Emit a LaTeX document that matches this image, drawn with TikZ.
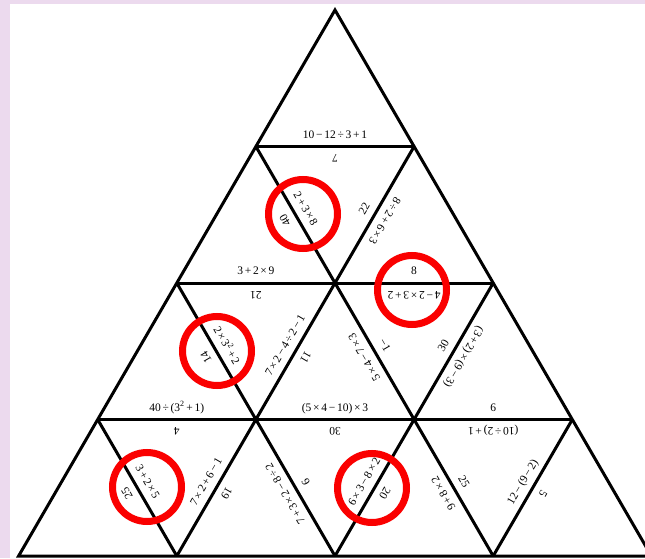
\documentclass[tikz,border=0pt]{standalone}
\usepackage{fontspec}
\setmainfont{Liberation Serif}
\definecolor{bgpurple}{RGB}{236,218,238}
\definecolor{circred}{RGB}{250,0,0}
\newcommand{\opP}{\hspace{.15em}+\hspace{.15em}}
\newcommand{\opM}{\hspace{.15em}−\hspace{.15em}}
\newcommand{\opT}{\hspace{.15em}×\hspace{.15em}}
\newcommand{\opD}{\hspace{.15em}÷\hspace{.15em}}
\newcommand{\sqv}{\textsuperscript{2}}
\begin{document}
\begin{tikzpicture}[x=1pt,y=1pt,
  edge/.style={line width=3pt},
  lbl/.style={midway, sloped, allow upside down, anchor=south, inner xsep=0pt,
    inner ysep=5pt, text height=8pt, text depth=3pt,
    font=\fontsize{11.5}{13}\selectfont},
  rcirc/.style={circle, draw=circred, line width=7pt, minimum size=69pt, inner sep=0pt}]
\fill[bgpurple] (0,0) rectangle (645,558);
\fill[white] (10,0) rectangle (645,554);
\clip (0,0) rectangle (645,558);
% vertices
\foreach \k in {0,...,4}{
  \foreach \i in {0,...,\k}{
    \coordinate (v\k\i) at ({335-79.1*\k+158.2*\i},{548-136.5*\k});
  }
}
% outer triangle
\draw[edge] (v00) -- (v40) -- (v44) -- cycle;
% horizontal lines
\draw[edge] (v10) -- (v11);
\draw[edge] (v20) -- (v22);
\draw[edge] (v30) -- (v33);
% slanted lines
\draw[edge] (v41) -- (v11);
\draw[edge] (v42) -- (v22);
\draw[edge] (v43) -- (v33);
\draw[edge] (v43) -- (v10);
\draw[edge] (v42) -- (v20);
\draw[edge] (v41) -- (v30);
% horizontal labels
\path (v10) -- (v11) node[lbl] (t1) {10\opM12\opD3\opP1};
\path (v11) -- (v10) node[lbl] (t2) {7};
\path (v20) -- (v21) node[lbl] (t3) {3\opP2\opT9};
\path (v21) -- (v20) node[lbl] (t4) {21};
\path (v21) -- (v22) node[lbl] (t5) {8};
\path (v22) -- (v21) node[lbl] (t6) {4\opM2\opT3\opP2};
\path (v30) -- (v31) node[lbl] (t7) {40\opD(3\sqv\opP1)};
\path (v31) -- (v30) node[lbl] (t8) {4};
\path (v31) -- (v32) node[lbl] (t9) {(5\opT4\opM10)\opT3};
\path (v32) -- (v31) node[lbl] (t10) {30};
\path (v32) -- (v33) node[lbl] (t11) {6};
\path (v33) -- (v32) node[lbl] (t12) {(10\opD2)\opP1};
% row 2 slanted labels
\path (v21) -- (v10) node[lbl] (t13) {40};
\path (v10) -- (v21) node[lbl] (t14) {2\opP3\opT8};
\path (v21) -- (v11) node[lbl] (t15) {22};
\path (v11) -- (v21) node[lbl] (t16) {8\opD2\opP6\opT3};
% row 3 slanted labels
\path (v31) -- (v20) node[lbl] (t17) {14};
\path (v20) -- (v31) node[lbl] (t18) {2\opT3\sqv\opP2};
\path (v31) -- (v21) node[lbl] (t19) {7\opT2\opM4\opD2\opM1};
\path (v21) -- (v31) node[lbl] (t20) {11};
\path (v32) -- (v21) node[lbl] (t21) {5\opT4\opM7\opT3};
\path (v21) -- (v32) node[lbl] (t22) {−1};
\path (v32) -- (v22) node[lbl] (t23) {30};
\path (v22) -- (v32) node[lbl] (t24) {(3\opP2)\opT(9\opM3)};
% row 4 slanted labels
\path (v41) -- (v30) node[lbl] (t25) {25};
\path (v30) -- (v41) node[lbl] (t26) {3\opP2\opT5};
\path (v41) -- (v31) node[lbl] (t27) {7\opT2\opP6\opM1};
\path (v31) -- (v41) node[lbl] (t28) {19};
\path (v42) -- (v31) node[lbl] (t29) {7\opP3\opT2\opM8\opD2};
\path (v31) -- (v42) node[lbl] (t30) {9};
\path (v42) -- (v32) node[lbl] (t31) {6\opT3\opM8\opT2};
\path (v32) -- (v42) node[lbl] (t32) {20};
\path (v43) -- (v32) node[lbl] (t33) {9\opP8\opT2};
\path (v32) -- (v43) node[lbl] (t34) {25};
\path (v43) -- (v33) node[lbl] (t35) {12\opM(9\opM2)};
\path (v33) -- (v43) node[lbl] (t36) {5};
% red circles
\node[rcirc] (c1) at (303,344) {};
\node[rcirc] (c2) at (412,268) {};
\node[rcirc] (c3) at (217,207) {};
\node[rcirc] (c4) at (147,71) {};
\node[rcirc] (c5) at (372,70) {};
\end{tikzpicture}
\end{document}
